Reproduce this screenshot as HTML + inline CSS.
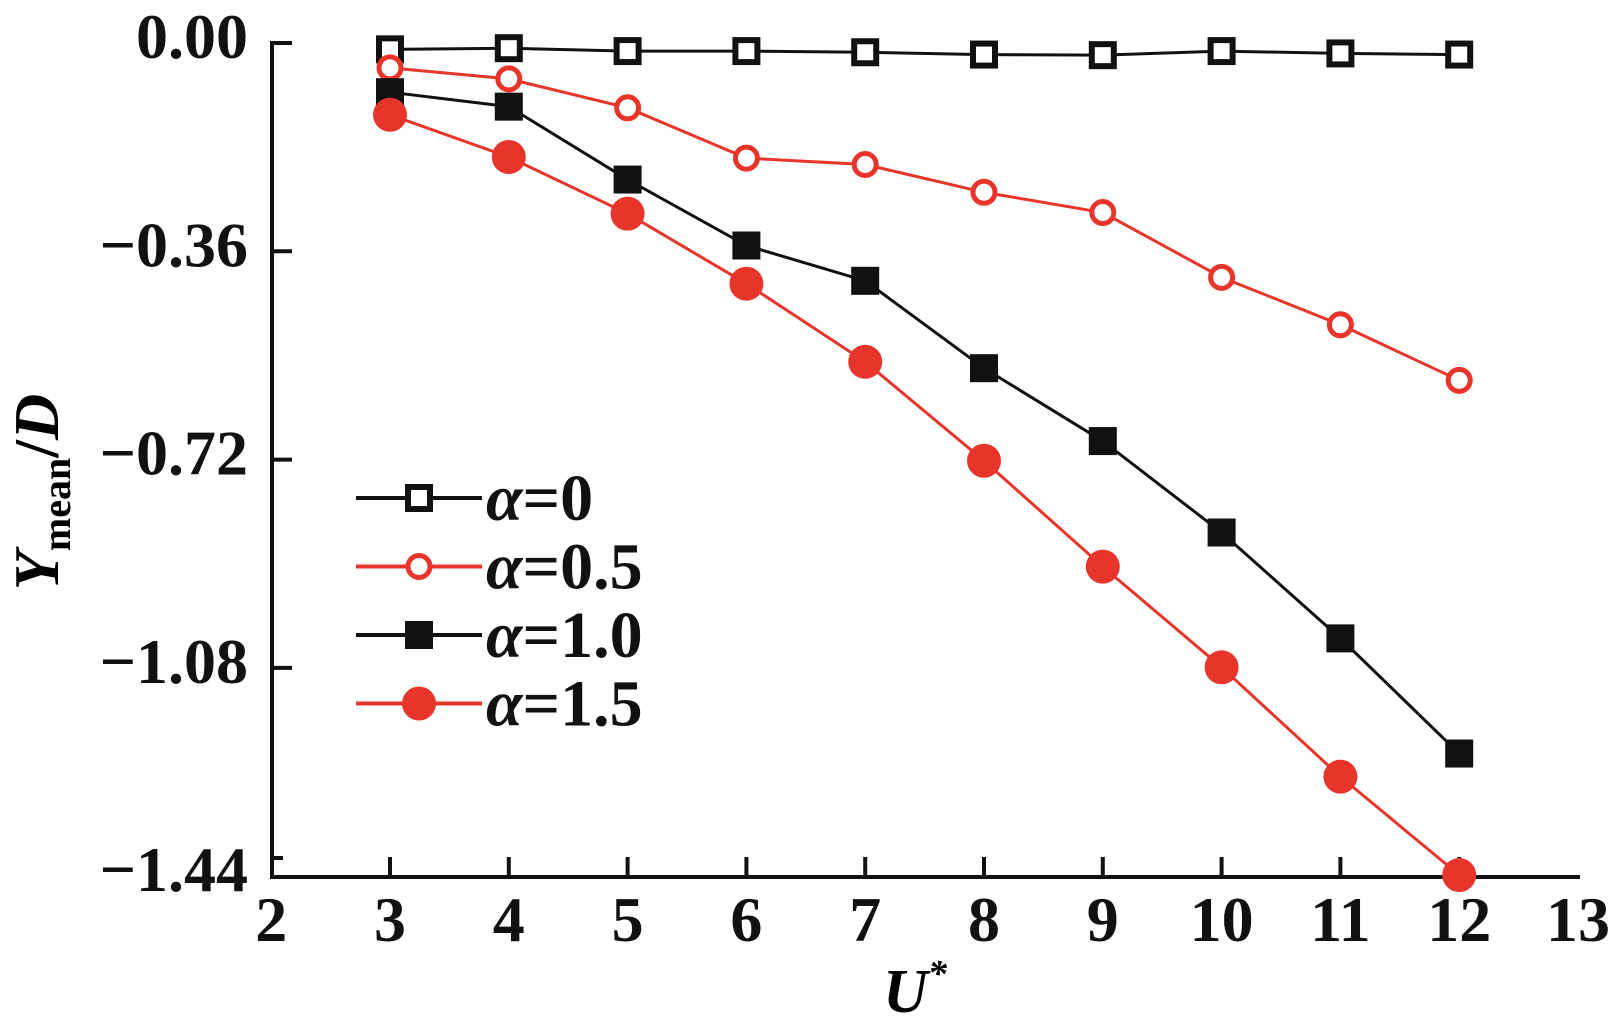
<!DOCTYPE html>
<html><head><meta charset="utf-8"><style>
html,body{margin:0;padding:0;background:#fff;}
svg{display:block;font-family:"Liberation Serif",serif;}
</style></head><body>
<svg id="chart" width="1608" height="1025" viewBox="0 0 1608 1025" xmlns="http://www.w3.org/2000/svg">
<g id="axes"></g>
<g id="series"></g>
<g id="legend"></g>
<text x="915" y="1012" font-size="62" font-weight="bold" font-style="italic" text-anchor="middle">U<tspan font-size="38" dy="-26">*</tspan></text>
<text transform="translate(58,492) rotate(-90)" font-size="64" font-weight="bold" text-anchor="middle"><tspan font-style="italic">Y</tspan><tspan font-size="40" dy="12">mean</tspan><tspan dy="-12">/</tspan><tspan font-style="italic">D</tspan></text>
</svg>
<script>
const categories = [3,4,5,6,7,8,9,10,11,12];
const seriesA0 = [-0.011,-0.009,-0.014,-0.014,-0.016,-0.020,-0.021,-0.014,-0.018,-0.020];
const seriesA05 = [-0.043,-0.062,-0.112,-0.199,-0.210,-0.258,-0.293,-0.405,-0.487,-0.583];
const seriesA10 = [-0.085,-0.110,-0.236,-0.350,-0.411,-0.562,-0.688,-0.846,-1.029,-1.228];
const seriesA15 = [-0.124,-0.197,-0.295,-0.416,-0.551,-0.722,-0.905,-1.079,-1.268,-1.438];
const xTicks = [2,3,4,5,6,7,8,9,10,11,12,13];
const yTicks = [0,-0.36,-0.72,-1.08,-1.44];
const yTickLabels = ["0.00","\u22120.36","\u22120.72","\u22121.08","\u22121.44"];
const seriesNames = ["α=0","α=0.5","α=1.0","α=1.5"];

const NS="http://www.w3.org/2000/svg";
const X0=272, Y0=43;
function xs(v){return 390+(v-3)*118.8;}
function ys(v){return Y0+(-v)*578.6;}
function mk(tag,attrs,parent){const e=document.createElementNS(NS,tag);for(const k in attrs)e.setAttribute(k,attrs[k]);parent.appendChild(e);return e;}
const axes=document.getElementById('axes');
const AXB=877;
let el=mk('line',{x1:X0,y1:41,x2:X0,y2:AXB+2,stroke:'#111','stroke-width':4},axes);


el=mk('line',{x1:X0-2,y1:AXB,x2:1580,y2:AXB,stroke:'#111','stroke-width':4},axes);


el=mk('line',{x1:X0,y1:858,x2:X0+11,y2:858,stroke:'#111','stroke-width':4},axes);


yTicks.forEach((v,i)=>{
  const y=ys(v);
  if(i<yTicks.length-1){
    const t=mk('line',{x1:X0,y1:y,x2:X0+20,y2:y,stroke:'#111','stroke-width':4},axes);
    
    
  }
  const l=mk('text',{x:248,y:y+15,'font-size':64,'font-weight':'bold','text-anchor':'end',fill:'#111'},axes);
  l.textContent=yTickLabels[i];
  
  
});
xTicks.forEach(v=>{
  const x=xs(v);
  if(v>2&&v<13){
    const t=mk('line',{x1:x,y1:AXB,x2:x,y2:AXB-20,stroke:'#111','stroke-width':4},axes);
    
    
  }
  const l=mk('text',{x:x,y:941,'font-size':64,'font-weight':'bold','text-anchor':'middle',fill:'#111'},axes);
  l.textContent=v;
  
  
});
const RED='#e8352c', BLK='#111';
const specs=[
 {data:seriesA0,color:BLK,m:'sqOpen'},
 {data:seriesA05,color:RED,m:'ciOpen'},
 {data:seriesA10,color:BLK,m:'sqFill'},
 {data:seriesA15,color:RED,m:'ciFill'}];
function marker(g,type,x,y,color){
  let e;
  if(type==='sqOpen') e=mk('rect',{x:x-11,y:y-11,width:22,height:22,fill:'#fff',stroke:color,'stroke-width':6},g);
  else if(type==='sqFill') e=mk('rect',{x:x-14,y:y-14,width:28,height:28,fill:color},g);
  else if(type==='ciOpen') e=mk('circle',{cx:x,cy:y,r:11,fill:'#fff',stroke:color,'stroke-width':5},g);
  else e=mk('circle',{cx:x,cy:y,r:17,fill:color},g);
  return e;
}
const sg=document.getElementById('series');
specs.forEach((s,si)=>{
  const g=mk('g',{},sg);
  
  
  const pts=categories.map((c,i)=>xs(c)+','+ys(s.data[i])).join(' ');
  const pl=mk('polyline',{points:pts,fill:'none',stroke:s.color,'stroke-width':3},g);
  
  
  categories.forEach((c,i)=>{
    const m=marker(g,s.m,xs(c),ys(s.data[i]),s.color);
    
    
  });
});
const lg=document.getElementById('legend');
specs.forEach((s,i)=>{
  const y=498+i*68.5;
  const g=mk('g',{},lg);
  
  
  mk('line',{x1:356,y1:y,x2:482,y2:y,stroke:s.color,'stroke-width':4},g);
  marker(g,s.m,419,y,s.color);
  const t=mk('text',{x:486,y:y+22,'font-size':66,'font-weight':'bold',fill:'#111'},g);
  const a=mk('tspan',{'font-style':'italic'},t); a.textContent='α';
  const r=mk('tspan',{},t); r.textContent=seriesNames[i].slice(1);
});
</script>
</body></html>
